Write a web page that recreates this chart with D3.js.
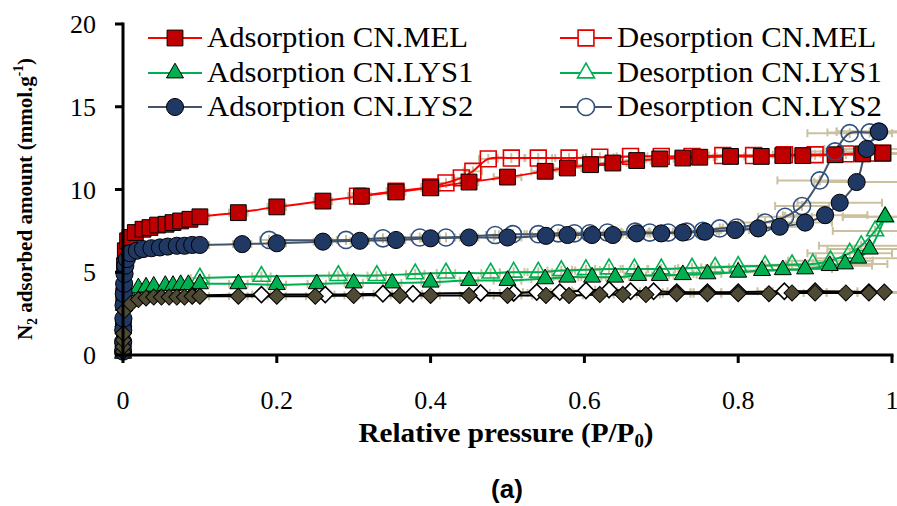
<!DOCTYPE html>
<html>
<head>
<meta charset="utf-8">
<script src="https://cdn.jsdelivr.net/npm/d3@7/dist/d3.min.js"></script>
<style>
  body { margin: 0; background: #fff; }
  svg { display: block; }
</style>
</head>
<body>
<div id="vis"></div>
<script>
// pressure (P/P0), amount (mmol/g)
var melAds = [[0.0002,0.3],[0.0005,1.8],[0.001,3.6],[0.002,5.4],[0.003,6.3],[0.006,6.9],[0.009,7.1],[0.016,7.4],[0.026,7.6],[0.035,7.7],[0.045,7.85],[0.056,7.9],[0.065,8.0],[0.075,8.1],[0.087,8.2],[0.1,8.35],[0.15,8.6],[0.2,8.95],[0.26,9.3],[0.31,9.6],[0.355,9.85],[0.4,10.1],[0.45,10.45],[0.5,10.75],[0.549,11.1],[0.578,11.3],[0.608,11.5],[0.637,11.6],[0.668,11.75],[0.698,11.85],[0.728,11.9],[0.75,11.95],[0.79,12.0],[0.83,12.0],[0.858,12.05],[0.884,12.05],[0.926,12.1],[0.962,12.15],[0.988,12.2]];
var melDes = [[0.988,12.2],[0.97,12.2],[0.94,12.15],[0.9,12.1],[0.86,12.1],[0.82,12.05],[0.78,12.05],[0.74,12.0],[0.7,12.0],[0.66,12.0],[0.62,11.95],[0.58,11.9],[0.54,11.9],[0.505,11.9],[0.475,11.85],[0.455,11.1],[0.44,10.7],[0.42,10.4],[0.4,10.15],[0.355,9.9],[0.305,9.6]];

var lys1Ads = [[0.0001,0.1],[0.0003,1.0],[0.0005,2.0],[0.001,3.0],[0.002,3.6],[0.005,3.9],[0.02,4.05],[0.03,4.1],[0.04,4.15],[0.055,4.2],[0.065,4.2],[0.075,4.25],[0.085,4.25],[0.1,4.3],[0.15,4.3],[0.2,4.25],[0.252,4.3],[0.3,4.35],[0.35,4.35],[0.4,4.4],[0.45,4.5],[0.5,4.5],[0.549,4.6],[0.578,4.7],[0.61,4.7],[0.64,4.7],[0.67,4.8],[0.698,4.8],[0.728,4.85],[0.76,4.9],[0.8,5.0],[0.831,5.1],[0.858,5.15],[0.887,5.2],[0.919,5.4],[0.939,5.5],[0.956,5.85],[0.971,6.4],[0.991,8.35]];
var lys1Des = [[0.991,8.35],[0.978,7.5],[0.96,6.6],[0.945,6.15],[0.92,5.7],[0.897,5.5],[0.87,5.45],[0.835,5.4],[0.8,5.35],[0.77,5.3],[0.74,5.25],[0.7,5.2],[0.665,5.2],[0.632,5.2],[0.602,5.15],[0.57,5.1],[0.54,5.0],[0.508,5.0],[0.478,4.95],[0.42,4.95],[0.38,4.9],[0.33,4.8],[0.28,4.8],[0.18,4.75],[0.1,4.65]];

var lys2Ads = [[0.0001,0.2],[0.0002,0.8],[0.0003,1.5],[0.0005,2.2],[0.0007,3.0],[0.001,3.7],[0.0015,4.3],[0.002,4.9],[0.003,5.4],[0.005,5.8],[0.009,6.15],[0.018,6.3],[0.026,6.4],[0.037,6.45],[0.048,6.5],[0.058,6.55],[0.07,6.6],[0.08,6.6],[0.09,6.65],[0.1,6.65],[0.155,6.7],[0.2,6.75],[0.26,6.85],[0.308,6.9],[0.355,6.95],[0.4,7.05],[0.45,7.1],[0.5,7.1],[0.55,7.2],[0.578,7.25],[0.61,7.25],[0.637,7.25],[0.668,7.35],[0.7,7.35],[0.728,7.4],[0.757,7.45],[0.796,7.55],[0.826,7.65],[0.854,7.75],[0.887,8.0],[0.913,8.45],[0.932,9.2],[0.954,10.45],[0.967,12.45],[0.983,13.5]];
var lys2Des = [[0.983,13.5],[0.971,13.45],[0.945,13.4],[0.926,12.3],[0.906,10.55],[0.883,9.0],[0.861,8.35],[0.835,8.0],[0.798,7.7],[0.776,7.65],[0.754,7.5],[0.733,7.45],[0.709,7.4],[0.685,7.4],[0.666,7.45],[0.63,7.4],[0.607,7.35],[0.587,7.35],[0.566,7.35],[0.54,7.3],[0.507,7.3],[0.484,7.25],[0.42,7.1],[0.386,7.1],[0.338,7.05],[0.29,6.95],[0.19,6.95]];

// fourth sample (diamonds), not listed in the legend
var s4Ads = [[0.0001,0.2],[0.0002,0.5],[0.0003,0.9],[0.0005,1.3],[0.002,2.7],[0.01,3.1],[0.02,3.35],[0.03,3.45],[0.04,3.5],[0.05,3.5],[0.06,3.5],[0.07,3.5],[0.08,3.5],[0.09,3.55],[0.1,3.55],[0.15,3.55],[0.2,3.55],[0.25,3.55],[0.3,3.6],[0.36,3.6],[0.4,3.6],[0.45,3.6],[0.5,3.6],[0.55,3.6],[0.58,3.6],[0.62,3.65],[0.65,3.65],[0.68,3.65],[0.72,3.7],[0.76,3.7],[0.8,3.7],[0.84,3.7],[0.87,3.75],[0.9,3.75],[0.94,3.75],[0.97,3.75],[0.99,3.8]];
var s4Des = [[0.97,3.8],[0.9,3.85],[0.86,3.85],[0.8,3.8],[0.76,3.8],[0.72,3.8],[0.69,3.85],[0.66,3.85],[0.632,3.95],[0.602,3.9],[0.568,3.8],[0.538,3.8],[0.508,3.75],[0.465,3.75],[0.377,3.7],[0.338,3.7],[0.263,3.65],[0.18,3.65],[0.09,3.6]];

// horizontal error (P/P0) by pressure band, vertical error (mmol/g)
var errBand = [0.05, 0.5, 0.8, 0.9, 1.01];
var errX = [0, 0.012, 0.018, 0.035, 0.055];
var errY = 0.3;

var xTicks = [0, 0.2, 0.4, 0.6, 0.8, 1];
var xTickLabels = ["0", "0.2", "0.4", "0.6", "0.8", "1"];
var yTicks = [0, 5, 10, 15, 20];

var legendNames = ["Adsorption CN.MEL", "Desorption CN.MEL", "Adsorption CN.LYS1", "Desorption CN.LYS1", "Adsorption CN.LYS2", "Desorption CN.LYS2"];

var W = 897, H = 506;
var serif = "'Liberation Serif', 'DejaVu Serif', serif";

var svg = d3.select("#vis").append("svg").attr("width", W).attr("height", H);

var x = d3.scaleLinear().domain([0, 1]).range([123, 892]);
var y = d3.scaleLinear().domain([0, 20]).range([355, 24]);

var mel = {
	ads: {data: melAds, line: "#ff0000", shape: "square", fill: "#c00000", stroke: "#000", open: false},
	des: {data: melDes, line: "#ff0000", shape: "square", fill: "none", stroke: "#e00000", open: true}
};
var lys1 = {
	ads: {data: lys1Ads, line: "#00b050", shape: "triangle", fill: "#00b050", stroke: "#000", open: false},
	des: {data: lys1Des, line: "#00b050", shape: "triangle", fill: "none", stroke: "#00b050", open: true}
};
var lys2 = {
	ads: {data: lys2Ads, line: "#44546a", shape: "circle", fill: "#203864", stroke: "#000", open: false},
	des: {data: lys2Des, line: "#44546a", shape: "circle", fill: "none", stroke: "#2f5080", open: true}
};
var s4 = {
	ads: {data: s4Ads, line: "#000", shape: "diamond", fill: "#4f4a33", stroke: "#000", open: false},
	des: {data: s4Des, line: "#000", shape: "diamond", fill: "#fff", stroke: "#000", open: true}
};

// drawing order, later on top
var series = [mel.des, mel.ads, lys1.des, lys1.ads, lys2.des, lys2.ads, s4.des, s4.ads];

function symPath (shape) {
	if (shape == "square") return d3.symbol(d3.symbolSquare, 250)();
	if (shape == "circle") return d3.symbol(d3.symbolCircle, 230)();
	if (shape == "triangle") return d3.symbol(d3.symbolTriangle, 125)();
	return d3.symbol(d3.symbolSquare, 130)();
}
function symTransform (shape, px, py) {
	return "translate(" + px + "," + py + ")" + (shape == "diamond" ? " rotate(45)" : "");
}
function errFor (p) {
	for (var i = 0; i < errBand.length; i++) {
		if (p < errBand[i]) return errX[i];
	}
	return 0;
}

// error bars
var eg = svg.append("g").attr("stroke", "#cbc19f").attr("stroke-width", 2).attr("fill", "none");
series.forEach(function (s) {
	s.data.forEach(function (d) {
		var ex = errFor(d[0]);
		if (!ex) return;
		var x0 = x(Math.max(0, d[0] - ex)), x1 = x(d[0] + ex), py = y(d[1]);
		eg.append("line").attr("x1", x0).attr("x2", x1).attr("y1", py).attr("y2", py);
		eg.append("line").attr("x1", x0).attr("x2", x0).attr("y1", py - 4).attr("y2", py + 4);
		eg.append("line").attr("x1", x1).attr("x2", x1).attr("y1", py - 4).attr("y2", py + 4);
		eg.append("line").attr("x1", x(d[0])).attr("x2", x(d[0])).attr("y1", y(d[1] + errY)).attr("y2", y(d[1] - errY));
	});
});

// lines
var line = d3.line().x(function (d) { return x(d[0]); }).y(function (d) { return y(d[1]); }).curve(d3.curveCatmullRom.alpha(0.5));
series.forEach(function (s) {
	svg.append("path").datum(s.data).attr("d", line)
		.attr("fill", "none").attr("stroke", s.line).attr("stroke-width", 2);
});

// markers
series.forEach(function (s) {
	svg.append("g").selectAll("path").data(s.data).enter().append("path")
		.attr("d", symPath(s.shape))
		.attr("transform", function (d) { return symTransform(s.shape, x(d[0]), y(d[1])); })
		.attr("fill", s.fill)
		.attr("stroke", s.stroke)
		.attr("stroke-width", s.open ? 1.6 : 1);
});

// axes
var ax = svg.append("g").attr("stroke", "#000").attr("stroke-width", 3).attr("fill", "none");
ax.append("line").attr("x1", x(0)).attr("x2", x(0)).attr("y1", y(20) - 1.5).attr("y2", y(0) + 1.5);
ax.append("line").attr("x1", x(0) - 1.5).attr("x2", x(1) + 1.5).attr("y1", y(0)).attr("y2", y(0));
yTicks.forEach(function (t) {
	ax.append("line").attr("x1", x(0) - 8).attr("x2", x(0)).attr("y1", y(t)).attr("y2", y(t));
});
xTicks.forEach(function (t) {
	ax.append("line").attr("x1", x(t)).attr("x2", x(t)).attr("y1", y(0)).attr("y2", y(0) + 8);
});

svg.append("g").selectAll("text").data(yTicks).enter().append("text")
	.attr("x", 96).attr("y", function (d) { return y(d) + 9; })
	.attr("text-anchor", "end").attr("font-family", serif).attr("font-size", 26)
	.text(function (d) { return d; });

svg.append("g").selectAll("text").data(xTicks).enter().append("text")
	.attr("x", function (d) { return x(d); }).attr("y", 409)
	.attr("text-anchor", "middle").attr("font-family", serif).attr("font-size", 26)
	.text(function (d, i) { return xTickLabels[i]; });

// axis titles
var xt = svg.append("text").attr("x", 506).attr("y", 442).attr("text-anchor", "middle")
	.attr("font-family", serif).attr("font-size", 28).attr("font-weight", "bold")
	.attr("textLength", 295).attr("lengthAdjust", "spacingAndGlyphs");
xt.append("tspan").text("Relative pressure (P/P");
xt.append("tspan").attr("font-size", 18).attr("dy", 5).text("0");
xt.append("tspan").attr("dy", -5).text(")");

var yt = svg.append("text").attr("transform", "translate(32,199) rotate(-90)").attr("text-anchor", "middle")
	.attr("font-family", serif).attr("font-size", 22).attr("font-weight", "bold")
	.attr("textLength", 282).attr("lengthAdjust", "spacingAndGlyphs");
yt.append("tspan").text("N");
yt.append("tspan").attr("font-size", 14).attr("dy", 5).text("2");
yt.append("tspan").attr("dy", -5).text(" adsorbed amount (mmol.g");
yt.append("tspan").attr("font-size", 14).attr("dy", -9).text("-1");
yt.append("tspan").attr("dy", 9).text(")");

svg.append("text").attr("x", 507).attr("y", 498).attr("text-anchor", "middle")
	.attr("font-family", "'Liberation Sans', Arial, sans-serif").attr("font-size", 26).attr("font-weight", "bold")
	.text("(a)");

// legend
var legendCols = [{lx0: 148, lx1: 202, tx: 207}, {lx0: 560, lx1: 612, tx: 617}];
var legendRows = [38, 73, 107];
var legendSeries = [mel.ads, mel.des, lys1.ads, lys1.des, lys2.ads, lys2.des];
var stretch = 1;
legendNames.forEach(function (name, i) {
	var c = legendCols[i % 2], ry = legendRows[Math.floor(i / 2)], s = legendSeries[i];
	var g = svg.append("g");
	g.append("line").attr("x1", c.lx0).attr("x2", c.lx1).attr("y1", ry).attr("y2", ry)
		.attr("stroke", s.line).attr("stroke-width", 2);
	g.append("path").attr("d", symPath(s.shape))
		.attr("transform", symTransform(s.shape, (c.lx0 + c.lx1) / 2, ry))
		.attr("fill", s.open ? "#fff" : s.fill).attr("stroke", s.stroke).attr("stroke-width", s.open ? 1.6 : 1);
	var t = g.append("text").attr("x", c.tx).attr("y", ry + 9).attr("font-family", serif).attr("font-size", 29)
		.text(name);
	var w = t.node().getComputedTextLength();
	if (i == 0) stretch = 261 / w;
	t.attr("textLength", w * stretch).attr("lengthAdjust", "spacingAndGlyphs");
});
</script>
</body>
</html>
